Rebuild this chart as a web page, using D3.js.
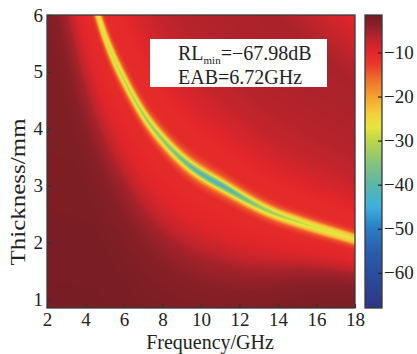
<!DOCTYPE html>
<html>
<head>
<meta charset="utf-8">
<script src="https://cdn.jsdelivr.net/npm/d3@7"></script>
<style>
  body { margin: 0; background: #fff; }
  svg { display: block; }
  text { font-family: "Liberation Serif", "Times New Roman", serif; fill: #222; }
</style>
</head>
<body>
<svg id="chart" width="417" height="354"></svg>
<script>
// tick labels
var freqTicks = [2, 4, 6, 8, 10, 12, 14, 16, 18],
    thickTicks = [1, 2, 3, 4, 5, 6],
    rlTicks = [-10, -20, -30, -40, -50, -60];

// ridge of the quarter-wavelength match, read at every GHz from 2 to 18
var ridgeFreq  = d3.range(2, 19),
    ridgeThick = [11.7, 8.6, 6.75, 5.55, 4.85, 4.22, 3.8, 3.45, 3.2, 3.02, 2.82, 2.63, 2.48, 2.37, 2.26, 2.16, 2.06],
    ridgeRL    = [-20, -22, -25, -28.5, -30.5, -32.5, -34.5, -38, -43, -45, -40, -35, -32, -30, -28.5, -27.5, -26.5],
    coreWidth  = [0.55, 0.55, 0.55, 0.55, 0.58, 0.62, 0.68, 0.75, 0.8, 0.82, 0.8, 0.78, 0.76, 0.76, 0.76, 0.76, 0.76],
    bandWidth  = [0.7, 0.7, 0.72, 0.76, 0.84, 0.92, 0.98, 1.02, 1.04, 1.04, 1.02, 0.96, 0.88, 0.8, 0.74, 0.7, 0.68];

// RL against relative offset (d - dRidge) / dRidge
var coreOffset = [0.045, 0.07, 0.12, 0.2],
    coreRL     = [-22, -15, -11, -2],
    bandOffset = [-1.2, -0.8, -0.6, -0.45, -0.37, -0.28, -0.15, 0, 0.2, 0.35, 0.5, 0.7, 1, 2, 4],
    bandRL     = [-2.1, -2.5, -3.5, -5.5, -7.5, -9.5, -10.5, -11, -10.5, -9, -7.5, -6.5, -6, -5.5, -5.2];

// weak second resonance, top right corner
var ridge2Freq  = [10, 12, 14, 16, 17, 18],
    ridge2Thick = [10.2, 9, 7.9, 7.1, 6.75, 6.4],
    band2Offset = [-1, -0.4, -0.2, -0.1, 0, 0.1, 0.3, 1],
    band2RL     = [-2, -3.5, -6.5, -9, -11.5, -9, -6, -4];

// colour bar
var colorStops = [-67.98, -60, -55, -50, -45, -40, -35, -30, -27, -24, -20, -16, -13, -10, -7, -4, -1.5],
    colorHex   = ["#2c3684", "#2b4e9e", "#2a5eae", "#2a7cc4", "#3cb0de", "#5cb6a8", "#86c47a", "#bcd64a",
                  "#e6e63e", "#f2d23a", "#f5a030", "#f06d2c", "#ea3d2a", "#e4262a", "#c0242c", "#8c2028", "#721c22"];

var svg = d3.select("#chart");
var plotL = 47, plotR = 355, plotT = 15, plotB = 308,
    W = plotR - plotL, H = plotB - plotT;

var x = d3.scaleLinear().domain([2, 18]).range([plotL, plotR]);
var y = d3.scaleLinear().domain([0.85, 6]).range([plotB, plotT]);
var color = d3.scaleLinear().domain(colorStops).range(colorHex).clamp(true);

// smooth curves through the per-GHz readings
var fPos = d3.scaleLinear().domain(d3.extent(ridgeFreq)).range([0, 1]);
var ridgeD = d3.interpolateBasis(ridgeThick),
    ridgeDepth = d3.interpolateBasis(ridgeRL),
    coreW = d3.interpolateBasis(coreWidth),
    bandW = d3.interpolateBasis(bandWidth);
var core = d3.scaleLinear().domain(coreOffset).range(coreRL).clamp(true),
    band = d3.scaleLinear().domain(bandOffset).range(bandRL).clamp(true),
    ridge2D = d3.scaleLinear().domain(ridge2Freq).range(ridge2Thick),
    band2 = d3.scaleLinear().domain(band2Offset).range(band2RL).clamp(true);

function rlAt(f, d) {
  var t = fPos(f),
      dr = ridgeD(t),
      r = (d - dr) / dr,
      rc = Math.abs(r) / coreW(t),
      vc = rc < coreOffset[0]
        ? d3.interpolateNumber(ridgeDepth(t), coreRL[0])(rc / coreOffset[0])
        : core(rc),
      vb = band(r < 0 ? r / bandW(t) : r),
      d2 = ridge2D(f);
  return Math.min(vc, vb, band2((d - d2) / d2));
}

// heat map drawn into a canvas, placed as an image
var canvas = document.createElement("canvas");
canvas.width = W; canvas.height = H;
var ctx = canvas.getContext("2d"),
    img = ctx.createImageData(W, H);
for (var j = 0; j < H; j++) {
  var d = y.invert(plotT + j + 0.5);
  for (var i = 0; i < W; i++) {
    var c = d3.rgb(color(rlAt(x.invert(plotL + i + 0.5), d))),
        k = (j * W + i) * 4;
    img.data[k] = c.r; img.data[k + 1] = c.g; img.data[k + 2] = c.b; img.data[k + 3] = 255;
  }
}
ctx.putImageData(img, 0, 0);
svg.append("image")
    .attr("x", plotL).attr("y", plotT)
    .attr("width", W).attr("height", H)
    .attr("href", canvas.toDataURL());

// axes, ticks inward
var xAxis = svg.append("g")
    .attr("transform", "translate(0," + plotB + ")")
    .call(d3.axisBottom(x).tickValues(freqTicks).tickFormat(d3.format("d"))
      .tickSizeInner(-4).tickSizeOuter(0).tickPadding(5));
var yAxis = svg.append("g")
    .attr("transform", "translate(" + plotL + ",0)")
    .call(d3.axisLeft(y).tickValues(thickTicks).tickFormat(d3.format("d"))
      .tickSizeInner(-4).tickSizeOuter(0).tickPadding(4));
[xAxis, yAxis].forEach(function (g) {
  g.select(".domain").remove();
  g.selectAll("line").attr("stroke", "#333").attr("stroke-width", 1.2);
  g.selectAll("text").attr("font-size", 19)
    .style("font-family", "'Liberation Serif', serif").attr("fill", "#222");
});

svg.append("rect")
    .attr("x", plotL).attr("y", plotT).attr("width", W).attr("height", H)
    .attr("fill", "none").attr("stroke", "#3a3a3a").attr("stroke-width", 1.3);

svg.append("text")
    .attr("x", 210).attr("y", 349)
    .attr("text-anchor", "middle").attr("font-size", 20)
    .text("Frequency/GHz");
svg.append("text")
    .attr("transform", "translate(25,192) rotate(-90) scale(1.25,1)")
    .attr("text-anchor", "middle").attr("font-size", 20)
    .text("Thickness/mm");

// annotation box
svg.append("rect")
    .attr("x", 150).attr("y", 39).attr("width", 177).attr("height", 48)
    .attr("fill", "#fff");
var t1 = svg.append("text").attr("x", 178).attr("y", 60).attr("font-size", 20);
t1.append("tspan").text("RL");
t1.append("tspan").attr("font-size", 11).attr("dy", 4).text("min");
t1.append("tspan").attr("dy", -4).text("=\u221267.98dB");
svg.append("text").attr("x", 178).attr("y", 84).attr("font-size", 20).text("EAB=6.72GHz");

// colour bar
var cbLeft = 365, cbRight = 382;
var cb = d3.scaleLinear().domain([colorStops[0], colorStops[colorStops.length - 1]]).range([plotB, plotT]);
var grad = svg.append("defs").append("linearGradient")
    .attr("id", "cbGrad").attr("x1", 0).attr("y1", 1).attr("x2", 0).attr("y2", 0);
grad.selectAll("stop")
    .data(colorStops)
  .enter().append("stop")
    .attr("offset", function (v) { return (plotB - cb(v)) / H; })
    .attr("stop-color", function (v) { return color(v); });
svg.append("rect")
    .attr("x", cbLeft).attr("y", plotT).attr("width", cbRight - cbLeft).attr("height", H)
    .attr("fill", "url(#cbGrad)")
    .attr("stroke", "#3a3a3a").attr("stroke-width", 1.3);
var cAxis = svg.append("g")
    .attr("transform", "translate(" + cbRight + ",0)")
    .call(d3.axisRight(cb).tickValues(rlTicks).tickSizeInner(-4).tickSizeOuter(0).tickPadding(2));
cAxis.select(".domain").remove();
cAxis.selectAll("line").attr("stroke", "#222").attr("stroke-width", 1.2);
cAxis.selectAll("text").attr("font-size", 19)
  .style("font-family", "'Liberation Serif', serif").attr("fill", "#222");
</script>
</body>
</html>
